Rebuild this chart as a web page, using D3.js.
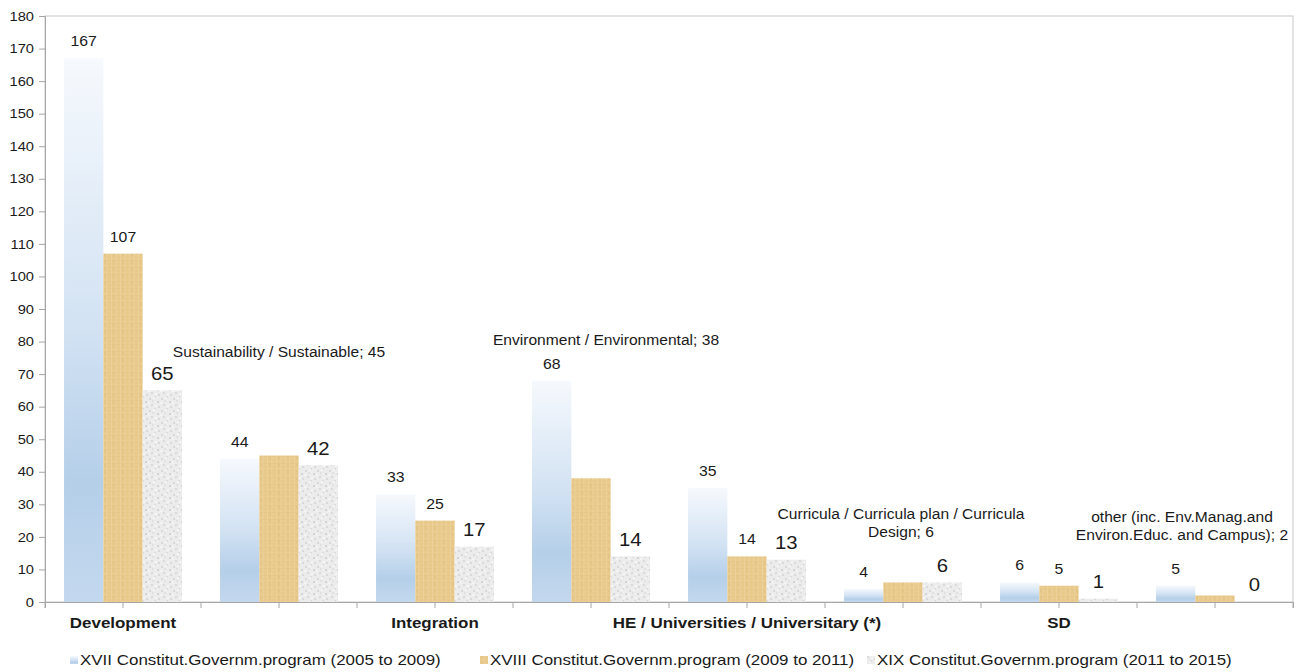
<!DOCTYPE html>
<html>
<head>
<meta charset="utf-8">
<script src="https://cdn.jsdelivr.net/npm/d3@7/dist/d3.min.js"></script>
<style>
  body { margin: 0; background: #fff; }
  text { font-family: "Liberation Sans", Arial, sans-serif; fill: #1a1a1a; }
</style>
</head>
<body>
<svg id="chart" width="1299" height="672"></svg>
<script>
// data
const categories = ["Development", "Sustainability / Sustainable", "Integration", "Environment / Environmental",
  "HE / Universities / Universitary (*)", "Curricula / Curricula plan / Curricula Design", "SD",
  "other (inc. Env.Manag.and Environ.Educ. and Campus)"];
const axisLabels = ["Development", "", "Integration", "", "HE / Universities / Universitary (*)", "", "SD", ""];
const seriesNames = ["XVII Constitut.Governm.program (2005 to 2009)",
  "XVIII Constitut.Governm.program (2009 to 2011)",
  "XIX Constitut.Governm.program (2011 to 2015)"];
const xvii = [167, 44, 33, 68, 35, 4, 6, 5];
const xviii = [107, 45, 25, 38, 14, 6, 5, 2];
const xix = [65, 42, 17, 14, 13, 6, 1, 0];
const yTicks = d3.range(0, 181, 10);
// categories whose name is shown on the XVIII label (moved by hand in the original)
const namedLabels = {
  1: { lines: ["Sustainability / Sustainable"], dx: 0, dy: -86 },
  3: { lines: ["Environment / Environmental"], dx: 15, dy: -121 },
  5: { lines: ["Curricula / Curricula plan / Curricula", "Design"], dx: -2, dy: -51 },
  7: { lines: ["other (inc. Env.Manag.and", "Environ.Educ. and Campus)"], dx: -33, dy: -61 }
};

const SX = 1.13; // the source picture is a bit stretched sideways
const svg = d3.select("#chart");
const plotLeft = 45, plotRight = 1293, plotTop = 16, plotBottom = 602;

const series = [xvii, xviii, xix];
const fills = ["url(#blueGrad)", "url(#tanTex)", "url(#grayTex)"];

const x0 = d3.scaleBand().domain(d3.range(categories.length)).range([plotLeft, plotRight])
  .paddingInner(0.244).paddingOuter(0.122);
const x1 = d3.scaleBand().domain([0, 1, 2]).range([0, x0.bandwidth()]);
const y = d3.scaleLinear().domain([0, 180]).range([plotBottom, plotTop]);

// fills
const defs = svg.append("defs");
const grad = defs.append("linearGradient").attr("id", "blueGrad")
  .attr("x1", 0).attr("y1", 0).attr("x2", 0).attr("y2", 1);
[[0, "#f6f9fd"], [0.5, "#d2e2f3"], [0.78, "#b5cfe9"], [1, "#c3d8ee"]].forEach(s => {
  grad.append("stop").attr("offset", s[0]).attr("stop-color", s[1]);
});

const tan = defs.append("pattern").attr("id", "tanTex").attr("patternUnits", "userSpaceOnUse")
  .attr("width", 9).attr("height", 7);
tan.append("rect").attr("width", 9).attr("height", 7).attr("fill", "#e9cb8e");
tan.append("path").attr("d", "M0,1.5H9M0,5H9").attr("stroke", "#d7b572").attr("stroke-width", 0.7).attr("opacity", 0.35);
tan.append("path").attr("d", "M2.5,0V7M7,0V7").attr("stroke", "#f1daa8").attr("stroke-width", 0.9).attr("opacity", 0.5);
tan.append("circle").attr("cx", 5).attr("cy", 3).attr("r", 1.2).attr("fill", "#dcbd7c").attr("opacity", 0.4);

const gray = defs.append("pattern").attr("id", "grayTex").attr("patternUnits", "userSpaceOnUse")
  .attr("width", 12).attr("height", 12);
gray.append("rect").attr("width", 12).attr("height", 12).attr("fill", "#ececec");
[[2, 3, "#cfcfcf"], [7, 1, "#d6d6d6"], [10, 6, "#c9c9c9"], [4, 9, "#d2d2d2"], [8, 10, "#fafafa"],
 [1, 7, "#fafafa"], [5, 5, "#dcdcdc"], [11, 11, "#d0d0d0"], [6, 2, "#fbfbfb"]].forEach(p => {
  gray.append("circle").attr("cx", p[0]).attr("cy", p[1]).attr("r", 0.9).attr("fill", p[2]);
});

// plot frame
svg.append("rect").attr("x", plotLeft).attr("y", plotTop).attr("width", plotRight - plotLeft).attr("height", plotBottom - plotTop)
  .attr("fill", "none").attr("stroke", "#c8c8c8");

// bars
const groups = svg.append("g").selectAll("g").data(categories).join("g")
  .attr("transform", (d, i) => `translate(${x0(i)},0)`);
groups.selectAll("rect").data((d, i) => series.map((s, k) => ({ k, v: s[i] }))).join("rect")
  .attr("x", d => x1(d.k))
  .attr("y", d => y(d.v))
  .attr("width", x1.bandwidth())
  .attr("height", d => y(0) - y(d.v))
  .attr("fill", d => fills[d.k]);

// y axis
const yAxis = svg.append("g").attr("transform", `translate(${plotLeft},0)`)
  .call(d3.axisLeft(y).tickValues(yTicks).tickSize(6).tickPadding(11));
yAxis.select(".domain").attr("stroke", "#a6a6a6");
yAxis.selectAll(".tick line").attr("stroke", "#a6a6a6");
yAxis.selectAll(".tick text").attr("font-size", 13).attr("fill", "#1a1a1a")
  .attr("transform", `scale(${SX},1)`).attr("x", -11 / SX);

// x axis
const xAxis = svg.append("g").attr("transform", `translate(0,${plotBottom})`)
  .call(d3.axisBottom(x0).tickSize(6).tickPadding(9).tickFormat(i => axisLabels[i]));
xAxis.select(".domain").attr("stroke", "#a6a6a6");
xAxis.selectAll(".tick line").attr("stroke", "#a6a6a6");
xAxis.selectAll(".tick text").attr("font-size", 15).attr("font-weight", "bold").attr("fill", "#111")
  .attr("transform", `scale(${SX},1)`);
xAxis.selectAll(".edge").data(d3.range(categories.length + 1)).join("line").attr("class", "edge")
  .attr("x1", i => plotLeft + i * x0.step()).attr("x2", i => plotLeft + i * x0.step())
  .attr("y1", 0).attr("y2", 6).attr("stroke", "#a6a6a6");

// value labels
function label(x, yy, s, size) {
  svg.append("text").attr("transform", `translate(${x},${yy}) scale(${SX},1)`)
    .attr("text-anchor", "middle").attr("dy", "0.35em").attr("font-size", size).text(s);
}
const labelSize = [14, 14, 18];
series.forEach((s, k) => {
  s.forEach((v, i) => {
    const cx = x0(i) + x1(k) + x1.bandwidth() / 2;
    const cy = y(v) - 17;
    if (k === 1 && namedLabels[i]) {
      const n = namedLabels[i];
      n.lines.forEach((ln, j) => {
        const t = j === n.lines.length - 1 ? ln + "; " + v : ln;
        label(cx + n.dx, cy + n.dy + j * 18, t, 13.8);
      });
    } else {
      label(cx, cy, v, labelSize[k]);
    }
  });
});

// legend
const legendX = [70, 480, 867];
const legend = svg.append("g").attr("transform", "translate(0,660)");
seriesNames.forEach((name, k) => {
  legend.append("rect").attr("x", legendX[k]).attr("y", -4).attr("width", 8).attr("height", 8)
    .attr("fill", fills[k]);
  legend.append("text").attr("transform", `translate(${legendX[k] + 10},0) scale(${SX},1)`)
    .attr("dy", "0.35em").attr("font-size", 15).text(name);
});
</script>
</body>
</html>
